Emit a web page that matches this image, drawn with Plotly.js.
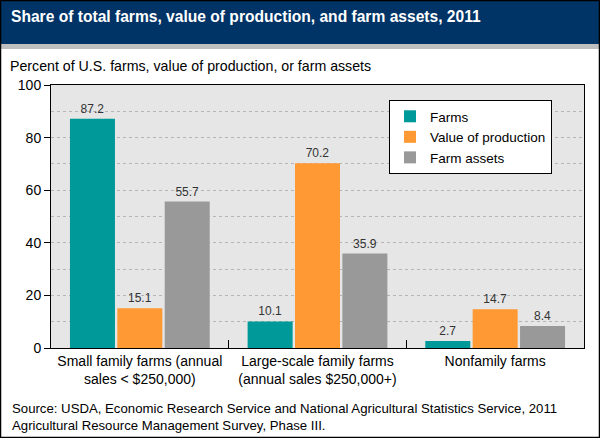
<!DOCTYPE html>
<html>
<head>
<meta charset="utf-8">
<script src="https://cdn.plot.ly/plotly-3.0.1.min.js"></script>
<style>html,body{margin:0;padding:0;background:#fff;}#chart{width:600px;height:438px;}</style>
</head>
<body>
<div id="chart"></div>
<script>
var categories = ["Small family farms (annual<br>sales &lt; $250,000)", "Large-scale family farms<br>(annual sales $250,000+)", "Nonfamily farms"];
var farms = [87.2, 10.1, 2.7];
var valueOfProduction = [15.1, 70.2, 14.7];
var farmAssets = [55.7, 35.9, 8.4];
var seriesNames = ["Farms", "Value of production", "Farm assets"];

var W = 600, H = 438;
var L = 51, R = 584, T = 85, B = 348;
function px(p){ return (p - L) / (R - L); }
function py(p){ return (B - p) / (B - T); }

function mk(name, vals, color){
  return {
    type: 'bar', name: name, x: categories, y: vals,
    marker: {color: color, line: {width: 0}},
    text: vals.map(function(v){ return v.toFixed(1); }),
    textposition: 'outside', cliponaxis: false,
    textfont: {family: 'Liberation Sans, Arial, sans-serif', size: 12, color: '#333'},
    hoverinfo: 'none'
  };
}
var data = [
  mk(seriesNames[0], farms, '#009999'),
  mk(seriesNames[1], valueOfProduction, '#ff9933'),
  mk(seriesNames[2], farmAssets, '#999999')
];

var layout = {
  width: W, height: H,
  margin: {l: L, r: W - R, t: T, b: H - B, pad: 0},
  paper_bgcolor: '#ffffff',
  plot_bgcolor: '#e6e6e6',
  font: {family: 'Liberation Sans, Arial, sans-serif', color: '#000'},
  barmode: 'group', bargap: 0.2, bargroupgap: 0.05,
  showlegend: true,
  legend: {x: px(389), y: py(100), xanchor: 'left', yanchor: 'top',
    bgcolor: '#ffffff', bordercolor: '#000', borderwidth: 1,
    font: {size: 13.5, color: '#000'}, tracegroupgap: 0, itemwidth: 30},
  xaxis: {
    showline: true, linecolor: '#000', linewidth: 1, mirror: true,
    ticks: 'inside', tickson: 'boundaries', ticklen: 8, tickcolor: '#000',
    tickfont: {size: 14, color: '#000'}, showgrid: false, zeroline: false,
    fixedrange: true
  },
  yaxis: {
    range: [0, 100], dtick: 20, tick0: 0,
    showline: true, linecolor: '#000', linewidth: 1, mirror: true,
    ticks: 'outside', ticklen: 6, tickcolor: '#000',
    tickfont: {size: 14, color: '#000'},
    showgrid: true, gridcolor: '#b5b5b5', griddash: 'dot', gridwidth: 1,
    minor: {dtick: 10, showgrid: true, gridcolor: '#b5b5b5', griddash: 'dot', gridwidth: 1},
    zeroline: false, fixedrange: true
  },
  shapes: [
    {type: 'rect', xref: 'paper', yref: 'paper', x0: px(0), x1: px(600), y0: py(44), y1: py(0),
      fillcolor: '#003366', line: {width: 0}, layer: 'below'},
    {type: 'rect', xref: 'paper', yref: 'paper', x0: px(0), x1: px(600), y0: py(49), y1: py(44),
      fillcolor: '#bfbfbf', line: {width: 0}, layer: 'below'},
    {type: 'rect', xref: 'paper', yref: 'paper', x0: px(0.5), x1: px(599.5), y0: py(437.5), y1: py(0.5),
      fillcolor: 'rgba(0,0,0,0)', line: {width: 1.5, color: '#000'}, layer: 'above'}
  ],
  annotations: [
    {text: '<b>Share of total farms, value of production, and farm assets, 2011</b>',
      xref: 'paper', yref: 'paper', x: px(9), y: py(16), xanchor: 'left', yanchor: 'middle',
      showarrow: false, font: {size: 15.6, color: '#ffffff'}},
    {text: 'Percent of U.S. farms, value of production, or farm assets',
      xref: 'paper', yref: 'paper', x: px(8), y: py(66), xanchor: 'left', yanchor: 'middle',
      showarrow: false, font: {size: 14.2, color: '#000'}},
    {text: 'Source: USDA, Economic Research Service and National Agricultural Statistics Service, 2011<br>Agricultural Resource Management Survey, Phase III.',
      xref: 'paper', yref: 'paper', x: px(10), y: py(417), xanchor: 'left', yanchor: 'middle', align: 'left',
      showarrow: false, font: {size: 13.2, color: '#000'}}
  ]
};

Plotly.newPlot('chart', data, layout, {displayModeBar: false, staticPlot: true});
</script>
</body>
</html>
